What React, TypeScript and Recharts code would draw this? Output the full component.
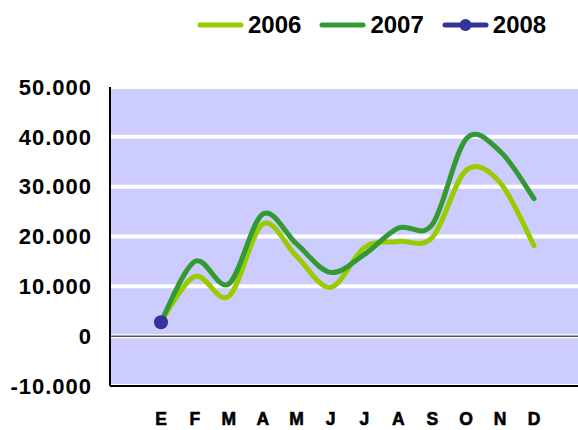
import React from "react";
import {
  CartesianGrid,
  Line,
  LineChart,
  ReferenceLine,
  XAxis,
  YAxis
} from "recharts";

const months = ["E", "F", "M", "A", "M", "J", "J", "A", "S", "O", "N", "D"];
const sales2006 = [2900, 12000, 8000, 22500, 16000, 9800, 17800, 19000, 19800, 33300, 30800, 18200];
const sales2007 = [2900, 15000, 10500, 24500, 18500, 12800, 16400, 21700, 22400, 39600, 37100, 27600];
const sales2008 = [2800, null, null, null, null, null, null, null, null, null, null, null];
const yTicks = [-10000, 0, 10000, 20000, 30000, 40000, 50000];

const series = [
  { key: "y2006", name: "2006", color: "#99cc00", dot: false },
  { key: "y2007", name: "2007", color: "#339933", dot: false },
  { key: "y2008", name: "2008", color: "#333399", dot: true }
];

const data = months.map((m, i) => ({
  month: m,
  y2006: sales2006[i],
  y2007: sales2007[i],
  y2008: sales2008[i]
}));

const FONT = "'Liberation Sans', Arial, sans-serif";

// Excel-style smoothing: bezier through every point, tangents (p2 - p0) / 6
function excelSmooth(context: any) {
  let pts: [number, number][] = [];
  return {
    areaStart() {},
    areaEnd() {},
    lineStart() {
      pts = [];
    },
    point(x: number, y: number) {
      pts.push([+x, +y]);
    },
    lineEnd() {
      if (!pts.length) return;
      context.moveTo(pts[0][0], pts[0][1]);
      if (pts.length === 1) {
        context.lineTo(pts[0][0], pts[0][1]);
        return;
      }
      for (let i = 0; i < pts.length - 1; i++) {
        const p0 = pts[i - 1] || pts[i];
        const p1 = pts[i];
        const p2 = pts[i + 1];
        const p3 = pts[i + 2] || p2;
        context.bezierCurveTo(
          p1[0] + (p2[0] - p0[0]) / 6,
          p1[1] + (p2[1] - p0[1]) / 6,
          p2[0] - (p3[0] - p1[0]) / 6,
          p2[1] - (p3[1] - p1[1]) / 6,
          p2[0],
          p2[1]
        );
      }
    }
  };
}

const fmt = (v: number) => {
  const s = String(Math.abs(v)).replace(/\B(?=(\d{3})+(?!\d))/g, ".");
  return v < 0 ? "-" + s : s;
};

function LegendBar() {
  return (
    <div
      style={{
        position: "absolute",
        left: 197,
        top: 11,
        display: "flex",
        alignItems: "center",
        fontFamily: FONT,
        fontWeight: 700,
        fontSize: 24,
        lineHeight: "28px",
        color: "#000"
      }}
    >
      {series.map((s) => (
        <div key={s.key} style={{ display: "flex", alignItems: "center", marginRight: 18 }}>
          <svg width={47} height={14} style={{ marginRight: 4 }}>
            <line x1={3} y1={7} x2={44} y2={7} stroke={s.color} strokeWidth={5} strokeLinecap="round" />
            {s.dot && <circle cx={23.5} cy={7} r={6} fill={s.color} />}
          </svg>
          <span>{s.name}</span>
        </div>
      ))}
    </div>
  );
}

export default function App() {
  return (
    <div
      style={{
        position: "absolute",
        left: 0,
        top: 0,
        width: 578,
        height: 430,
        overflow: "hidden",
        background: "#fff"
      }}
    >
      <LegendBar />
      <LineChart
        width={600}
        height={430}
        data={data}
        margin={{ top: 87, right: 10, bottom: 0, left: 0 }}
      >
        <CartesianGrid vertical={false} fill="#ccccff" stroke="#ffffff" strokeWidth={4} />
        <XAxis
          dataKey="month"
          height={44}
          padding={{ left: 51, right: 56 }}
          tickLine={false}
          tickSize={0}
          tickMargin={27}
          axisLine={{ stroke: "#000", strokeWidth: 2 }}
          tick={{ fill: "#000", stroke: "#000", strokeWidth: 0.6, fontFamily: FONT, fontWeight: 700, fontSize: 17.5 }}
          interval={0}
        />
        <XAxis
          xAxisId="top"
          dataKey="month"
          orientation="top"
          height={0}
          tick={false}
          tickLine={false}
          axisLine={{ stroke: "#000", strokeWidth: 2 }}
        />
        <YAxis
          width={110}
          domain={[-10000, 50000]}
          ticks={yTicks}
          tickFormatter={fmt}
          tickLine={false}
          tickSize={0}
          tickMargin={18}
          axisLine={{ stroke: "#000", strokeWidth: 2 }}
          tick={{ fill: "#000", fontFamily: FONT, fontWeight: 700, fontSize: 22, letterSpacing: 1 }}
          allowDataOverflow
        />
        <ReferenceLine y={0} stroke="#555566" strokeWidth={1.5} />
        {series.map((s) => (
          <Line
            key={s.key}
            dataKey={s.key}
            name={s.name}
            type={excelSmooth as any}
            stroke={s.color}
            strokeWidth={5}
            strokeLinecap="round"
            dot={s.dot ? { r: 7, fill: s.color, stroke: s.color, strokeWidth: 0 } : false}
            activeDot={false}
            isAnimationActive={false}
          />
        ))}
      </LineChart>
    </div>
  );
}
